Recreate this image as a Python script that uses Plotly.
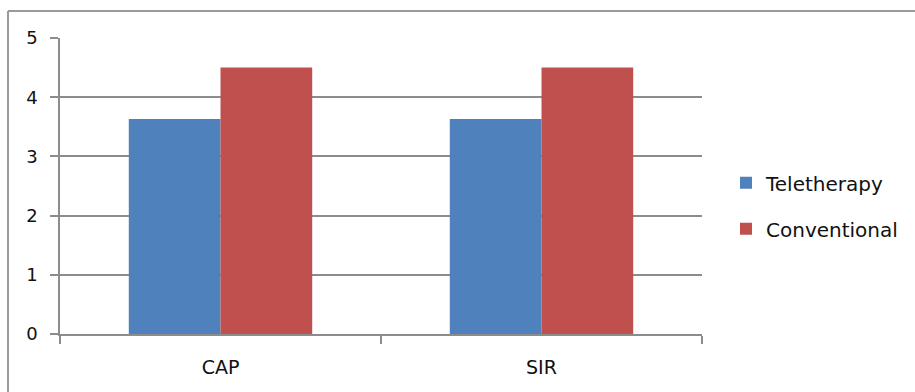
import plotly.graph_objects as go

# Mean scores by measure and treatment mode
categories = ["CAP", "SIR"]
teletherapy = [3.63, 3.63]
conventional = [4.5, 4.5]
y_ticks = [0, 1, 2, 3, 4, 5]

W, H = 915, 392
ML, MR, MT, MB = 60, 213, 37.5, 58
pw = W - ML - MR
ph = H - MT - MB

fig = go.Figure()
fig.add_trace(go.Bar(x=categories, y=teletherapy, name="Teletherapy",
                     marker=dict(color="#4F81BD", line=dict(width=0)),
                     legendgroup="a"))
fig.add_trace(go.Bar(x=categories, y=conventional, name="Conventional",
                     marker=dict(color="#C0504D", line=dict(width=0)),
                     legendgroup="b"))

grid = "#8C8C8C"
text_col = "#111111"
fig.update_layout(
    width=W, height=H,
    margin=dict(l=ML, r=MR, t=MT, b=MB, pad=0),
    paper_bgcolor="white", plot_bgcolor="white",
    barmode="group", bargap=1.5 / 3.5, bargroupgap=0,
    font=dict(family="DejaVu Sans", color=text_col),
    showlegend=True,
    legend=dict(x=(726 - ML) / pw, xanchor="left",
                y=(334 - 205.5) / ph, yanchor="middle",
                font=dict(size=20, color=text_col),
                tracegroupgap=17, bgcolor="rgba(0,0,0,0)"),
    xaxis=dict(showline=True, linecolor=grid, linewidth=1.5,
               ticks="outside", tickson="boundaries", ticklen=8,
               tickcolor=grid, tickwidth=1.5,
               tickfont=dict(size=19, color=text_col),
               ticklabelstandoff=15, showgrid=False, zeroline=False),
    yaxis=dict(range=[0, 5], tickvals=y_ticks, showline=True,
               linecolor=grid, linewidth=1.5,
               ticks="outside", ticklen=8, tickcolor=grid, tickwidth=1.5,
               tickfont=dict(size=18, color=text_col),
               ticklabelstandoff=9,
               showgrid=True, gridcolor=grid, gridwidth=1.5,
               zeroline=False),
)

# Chart frame: top edge and left edge
x_left = (8 - ML) / pw
y_top = (H - MB - 10.5) / ph
fig.add_shape(type="line", xref="paper", yref="paper",
              x0=x_left, x1=(W + 5 - ML) / pw, y0=y_top, y1=y_top,
              line=dict(color="#9A9A9A", width=2))
fig.add_shape(type="line", xref="paper", yref="paper",
              x0=x_left, x1=x_left, y0=y_top, y1=-(MB + 5) / ph,
              line=dict(color="#9A9A9A", width=2))

fig.write_html("out.html")
